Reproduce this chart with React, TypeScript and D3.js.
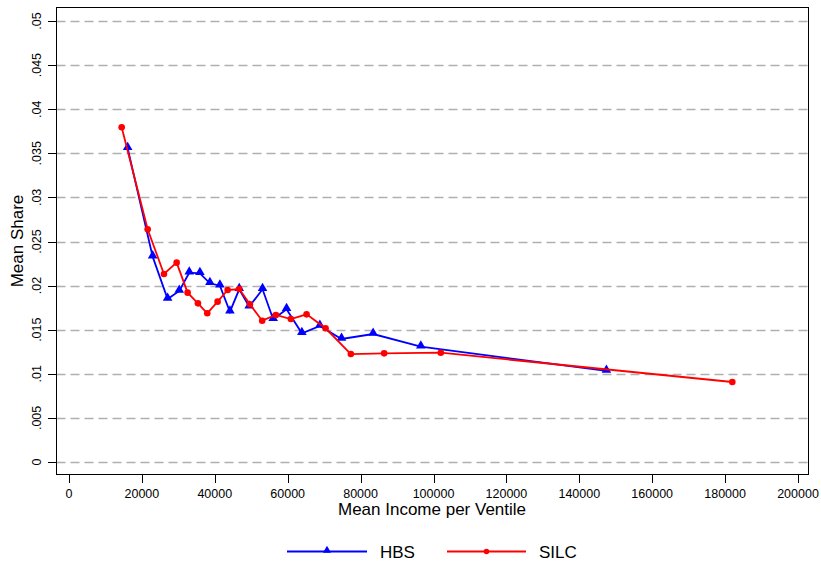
import React from "react";
import * as d3 from "d3";

const hbsIncome = [16095, 22950, 27060, 30250, 32990, 35920, 38660, 41400, 44150, 46700, 49440, 53100, 56020, 59690, 63890, 68820, 74770, 83440, 96520, 147440];
const hbsShare = [0.03557, 0.02328, 0.01848, 0.01939, 0.02146, 0.02139, 0.02026, 0.01999, 0.01704, 0.01958, 0.01761, 0.01958, 0.01618, 0.01731, 0.01459, 0.01542, 0.01395, 0.01451, 0.01307, 0.01032];
const silcIncome = [14450, 21580, 26050, 29530, 32540, 35370, 37930, 40770, 43520, 46700, 49630, 53000, 56760, 60870, 65180, 70390, 77320, 86460, 102000, 181980];
const silcShare = [0.03795, 0.02638, 0.02132, 0.0226, 0.0192, 0.01799, 0.01686, 0.01818, 0.0195, 0.01961, 0.01788, 0.01602, 0.01667, 0.01621, 0.01674, 0.01516, 0.01224, 0.01232, 0.01239, 0.00907];
const xTicks = [0, 20000, 40000, 60000, 80000, 100000, 120000, 140000, 160000, 180000, 200000];
const yTicks = [0, 0.005, 0.01, 0.015, 0.02, 0.025, 0.03, 0.035, 0.04, 0.045, 0.05];
const yTickLabels = ["0", ".005", ".01", ".015", ".02", ".025", ".03", ".035", ".04", ".045", ".05"];

const FONT = "Liberation Sans, Arial, sans-serif";

export default function App() {
  const x = d3.scaleLinear().domain([0, 200000]).range([69, 798]);
  const y = d3.scaleLinear().domain([0, 0.05]).range([462, 21]);
  const frame = { l: 56.5, r: 808.5, t: 7.5, b: 474.5 };
  const line = d3.line<[number, number]>().x((d) => x(d[0])).y((d) => y(d[1]));
  const hbs: [number, number][] = hbsIncome.map((v, i) => [v, hbsShare[i]]);
  const silc: [number, number][] = silcIncome.map((v, i) => [v, silcShare[i]]);
  const tri = d3.symbol().type(d3.symbolTriangle).size(40)();

  return (
    <svg width={821} height={568} style={{ position: "absolute", left: 0, top: 0, background: "#fff" }} fontFamily={FONT}>
      <rect x={0} y={0} width={821} height={568} fill="#fff" />
      {yTicks.map((t) => (
        <line key={"g" + t} x1={frame.l} x2={frame.r} y1={Math.round(y(t)) + 0.5} y2={Math.round(y(t)) + 0.5} stroke="#b0b0b0" strokeWidth={1.3} strokeDasharray="9,5" />
      ))}
      <rect x={frame.l} y={frame.t} width={frame.r - frame.l} height={frame.b - frame.t} fill="none" stroke="#000" strokeWidth={1} />
      {yTicks.map((t, i) => (
        <g key={"y" + t}>
          <line x1={48} x2={frame.l} y1={Math.round(y(t)) + 0.5} y2={Math.round(y(t)) + 0.5} stroke="#000" />
          <text transform={`translate(41,${y(t)}) rotate(-90)`} textAnchor="middle" fontSize={12.5} fill="#000">{yTickLabels[i]}</text>
        </g>
      ))}
      {xTicks.map((t) => (
        <g key={"x" + t}>
          <line x1={Math.round(x(t)) + 0.5} x2={Math.round(x(t)) + 0.5} y1={frame.b} y2={483} stroke="#000" />
          <text x={x(t)} y={498} textAnchor="middle" fontSize={12.5} fill="#000">{t}</text>
        </g>
      ))}
      <text x={432} y={515} textAnchor="middle" fontSize={17} fill="#000">Mean Income per Ventile</text>
      <text transform={`translate(23,241) rotate(-90)`} textAnchor="middle" fontSize={17} fill="#000">Mean Share</text>

      <path d={line(hbs) || ""} fill="none" stroke="#0000ff" strokeWidth={1.8} />
      {hbs.map((d, i) => (
        <path key={"h" + i} d={tri} transform={`translate(${x(d[0])},${y(d[1]) - 1})`} fill="#0000ff" />
      ))}
      <path d={line(silc) || ""} fill="none" stroke="#ff0000" strokeWidth={1.8} />
      {silc.map((d, i) => (
        <circle key={"s" + i} cx={x(d[0])} cy={y(d[1])} r={3.3} fill="#ff0000" />
      ))}

      <line x1={287} x2={367} y1={551.5} y2={551.5} stroke="#0000ff" strokeWidth={1.8} />
      <path d={d3.symbol().type(d3.symbolTriangle).size(28)() || ""} transform="translate(327,550.5)" fill="#0000ff" />
      <text x={380} y={558} fontSize={17} fill="#000">HBS</text>
      <line x1={447} x2={526} y1={551.5} y2={551.5} stroke="#ff0000" strokeWidth={1.8} />
      <circle cx={486.5} cy={551.5} r={2.8} fill="#ff0000" />
      <text x={539} y={558} fontSize={17} fill="#000">SILC</text>
    </svg>
  );
}
